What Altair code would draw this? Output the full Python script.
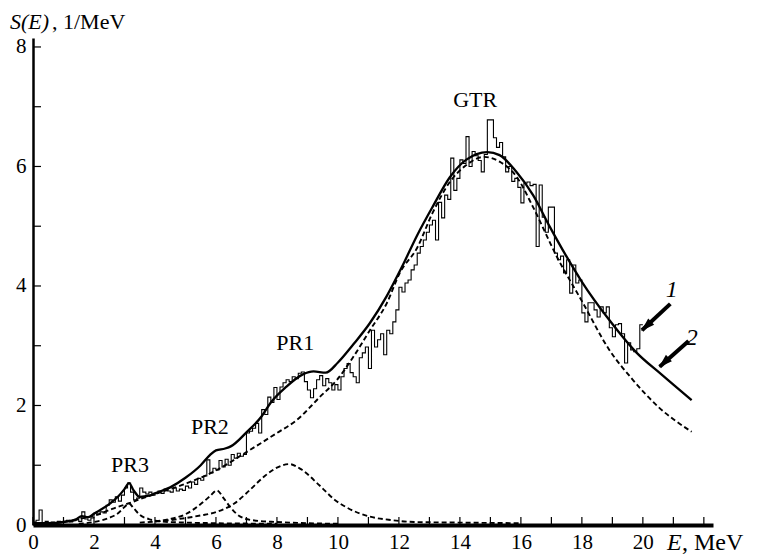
import altair as alt
import pandas as pd

# ---------------- data ----------------
HIST_START = 0.0
HIST_BIN = 0.1
hist_vals = [
    0.05, 0.08, 0.25, 0.04, 0.06, 0.03, 0.05, 0.04, 0.06, 0.05,
    0.06, 0.08, 0.05, 0.07, 0.09, 0.06, 0.22, 0.10, 0.08, 0.12,
    0.20, 0.18, 0.22, 0.20, 0.33, 0.42, 0.38, 0.47, 0.40, 0.50,
    0.62, 0.70, 0.55, 0.42, 0.45, 0.62, 0.55, 0.52, 0.55, 0.50,
    0.53, 0.57, 0.53, 0.60, 0.57, 0.55, 0.62, 0.57, 0.60, 0.58,
    0.65, 0.62, 0.72, 0.68, 0.78, 0.75, 0.82, 1.09, 0.87, 0.95,
    0.92, 1.08, 0.97, 1.10, 1.00, 1.18, 1.12, 1.20, 1.15, 1.18,
    1.54, 1.57, 1.62, 1.70, 1.54, 1.93, 1.85, 2.14, 2.05, 2.30,
    2.10, 2.31, 2.38, 2.43, 2.40, 2.48, 2.45, 2.54, 2.56, 2.40,
    2.26, 2.13, 2.28, 2.43, 2.50, 2.33, 2.45, 2.38, 2.26, 2.35,
    2.26, 2.48, 2.62, 2.70, 2.55, 2.48, 2.38, 2.80, 2.88, 2.98,
    2.62, 3.26, 2.98, 3.10, 3.20, 2.85, 3.26, 3.20, 3.40, 3.60,
    3.98, 3.90, 4.05, 4.10, 4.27, 4.35, 4.55, 4.66, 4.77, 4.90,
    5.02, 5.10, 4.77, 5.40, 5.14, 5.52, 5.45, 6.14, 5.60, 5.80,
    6.11, 6.05, 6.50, 6.00, 6.25, 6.18, 6.10, 5.91, 6.20, 6.78,
    6.78, 6.48, 6.32, 6.40, 6.16, 5.91, 6.00, 5.75, 5.80, 5.65,
    5.39, 5.72, 5.74, 5.68, 5.70, 4.66, 5.69, 5.15, 4.90, 5.32,
    5.32, 4.55, 4.44, 4.50, 4.22, 4.44, 3.88, 4.35, 4.05, 4.10,
    3.55, 3.40, 3.72, 3.72, 3.60, 3.48, 3.65, 3.55, 3.65, 3.30,
    3.15, 3.35, 3.37, 3.20, 2.71, 3.05, 2.93, 2.90, 2.95, 3.35,
]

# curve 1 (total, solid)
solid_x = [0.0, 0.5, 1.0, 1.4, 1.6, 1.8, 2.0, 2.5, 2.8, 3.0, 3.15, 3.3, 3.5, 3.8, 4.0,
           4.5, 5.0, 5.5, 5.8, 6.0, 6.3, 6.5, 7.0, 7.5, 7.8, 8.3, 8.85, 9.2, 9.6, 10.0,
           10.5, 11.05, 11.6, 12.1, 12.6, 13.1, 13.67, 14.2, 14.9, 15.3, 15.85, 16.4,
           16.95, 17.5, 18.0, 18.9, 19.8, 20.56, 21.0, 21.6]
solid_y = [0.03, 0.03, 0.05, 0.09, 0.15, 0.13, 0.19, 0.35, 0.48, 0.60, 0.70, 0.58, 0.47, 0.49, 0.53,
           0.63, 0.79, 1.00, 1.17, 1.25, 1.28, 1.32, 1.55, 1.82, 2.05, 2.31, 2.52, 2.57, 2.55, 2.72,
           3.02, 3.38, 3.83, 4.32, 4.85, 5.32, 5.82, 6.11, 6.24, 6.19, 5.91, 5.52,
           4.99, 4.49, 4.07, 3.43, 2.88, 2.54, 2.35, 2.09]

# curve 2 (GTR, dashed)
gtr_x = [0.0, 0.5, 1.0, 1.5, 2.1, 2.6, 3.18, 3.6, 4.07, 5.05, 6.03, 7.0, 8.0, 8.66, 9.4,
         9.97, 10.5, 11.05, 11.6, 12.03, 12.6, 13.1, 13.67, 14.2, 14.8, 15.3, 15.87, 16.4,
         17.18, 18.03, 18.9, 19.67, 20.5, 21.6]
gtr_y = [0.01, 0.02, 0.05, 0.10, 0.17, 0.27, 0.37, 0.45, 0.53, 0.70, 0.92, 1.22, 1.54, 1.76, 2.14,
         2.43, 2.81, 3.26, 3.71, 4.22, 4.64, 5.22, 5.74, 6.02, 6.16, 6.08, 5.82, 5.32,
         4.49, 3.72, 2.93, 2.43, 1.98, 1.56]

# pygmy resonances (dashed)
pr1_x = [3.5, 4.07, 5.05, 5.5, 6.03, 6.6, 7.1, 7.6, 8.0, 8.4, 8.8, 9.4, 9.9, 10.3, 11.05, 11.8, 12.5, 14.0, 16.0]
pr1_y = [0.04, 0.06, 0.12, 0.16, 0.22, 0.36, 0.58, 0.82, 0.96, 1.02, 0.93, 0.66, 0.42, 0.29, 0.14, 0.08, 0.05, 0.04, 0.03]
pr2_x = [4.0, 4.5, 5.0, 5.5, 5.8, 6.03, 6.25, 6.5, 6.8, 7.2, 8.0, 9.0, 10.0]
pr2_y = [0.06, 0.10, 0.18, 0.35, 0.48, 0.58, 0.45, 0.28, 0.14, 0.08, 0.05, 0.03, 0.02]
pr3_x = [1.5, 2.0, 2.5, 2.8, 3.0, 3.15, 3.3, 3.5, 3.8, 4.2, 5.0, 6.0, 8.0]
pr3_y = [0.02, 0.05, 0.12, 0.20, 0.30, 0.36, 0.28, 0.17, 0.10, 0.06, 0.04, 0.03, 0.02]

peak_names = ["GTR", "PR1", "PR2", "PR3"]
peak_label_x = [14.5, 8.6, 5.8, 3.18]
peak_label_y = [7.11, 3.05, 1.64, 1.00]

arrow_names = ["1", "2"]
arrow_tail_x = [20.9, 21.5]
arrow_tail_y = [3.70, 3.08]
arrow_head_x = [19.97, 20.55]
arrow_head_y = [3.26, 2.65]
arrow_label_x = [20.95, 21.6]
arrow_label_y = [3.93, 3.13]

x_tick_values = list(range(0, 23))
y_tick_values = list(range(0, 9))
x_label_values = list(range(0, 21, 2))
y_label_values = list(range(0, 9, 2))

# ---------------- chart ----------------
FONT = "Liberation Serif"
W, H = 680, 487
xscale = alt.Scale(domain=[0, 22.3], nice=False, zero=False)
yscale = alt.Scale(domain=[0, 8.15], nice=False, zero=False)
xaxis = alt.Axis(values=x_label_values, title=None, grid=False, tickSize=0, domainWidth=4,
                 labelPadding=6, labelFlush=False, labelOverlap=False, format="d")
yaxis = alt.Axis(values=y_label_values, title=None, grid=False, tickSize=0, domainWidth=2.5,
                 labelPadding=7, labelFlush=False, labelOverlap=False, format="d")
X = alt.X("x:Q", scale=xscale, axis=xaxis)
Y = alt.Y("y:Q", scale=yscale, axis=yaxis)

edges = [round(HIST_START + i * HIST_BIN, 2) for i in range(len(hist_vals) + 1)]
hist_df = pd.DataFrame({"x": edges, "y": hist_vals + [hist_vals[-1]]})

hist = alt.Chart(hist_df).mark_line(interpolate="step-after", color="black",
                                    strokeWidth=1.1, clip=True).encode(x=X, y=Y)

def curve(xs, ys, dashed, width):
    df = pd.DataFrame({"x": xs, "y": ys})
    kw = dict(interpolate="monotone", color="black", strokeWidth=width, clip=True)
    if dashed:
        kw["strokeDash"] = [5, 3]
    return alt.Chart(df).mark_line(**kw).encode(x=X, y=Y)

solid = curve(solid_x, solid_y, False, 2.3)
gtr = curve(gtr_x, gtr_y, True, 1.9)
pr1 = curve(pr1_x, pr1_y, True, 1.9)
pr2 = curve(pr2_x, pr2_y, True, 1.9)
pr3 = curve(pr3_x, pr3_y, True, 1.9)

# inside ticks
xt = alt.Chart(pd.DataFrame({"x": x_tick_values})).mark_rule(color="black", strokeWidth=1.2).encode(
    x=X, y=alt.value(H), y2=alt.value(H - 8))
yt = alt.Chart(pd.DataFrame({"y": y_tick_values})).mark_rule(color="black", strokeWidth=1.2).encode(
    y=Y, x=alt.value(0), x2=alt.value(8))

peaks_df = pd.DataFrame({"x": peak_label_x, "y": peak_label_y, "t": peak_names})
peaks = alt.Chart(peaks_df).mark_text(font=FONT, fontSize=22, color="black",
                                      align="center", baseline="middle").encode(x=X, y=Y, text="t:N")

arr_df = pd.DataFrame({"x": arrow_tail_x, "y": arrow_tail_y,
                       "x2": arrow_head_x, "y2": arrow_head_y, "t": arrow_names})
arr_lines = alt.Chart(arr_df).mark_rule(color="black", strokeWidth=4).encode(
    x=X, y=Y, x2="x2:Q", y2="y2:Q")
head_df = pd.DataFrame({"x": arrow_head_x, "y": arrow_head_y})
arr_heads = alt.Chart(head_df).mark_point(
    shape="M0,-0.15 L0.55,1.6 L-0.55,1.6 Z", filled=True, color="black", opacity=1,
    size=250, angle=227, strokeWidth=0).encode(x=X, y=Y)
lab_df = pd.DataFrame({"x": arrow_label_x, "y": arrow_label_y, "t": arrow_names})
arr_labels = alt.Chart(lab_df).mark_text(font=FONT, fontSize=24, fontStyle="italic", color="black",
                                         align="center", baseline="middle").encode(x=X, y=Y, text="t:N")

# axis titles as text pieces
one = pd.DataFrame({"a": [0]})
ytitle1 = alt.Chart(one).mark_text(text="S(E)", font=FONT, fontSize=22, fontStyle="italic",
                                   align="left", baseline="alphabetic", color="black").encode(
    x=alt.value(-23), y=alt.value(-9))
ytitle2 = alt.Chart(one).mark_text(text=", 1/MeV", font=FONT, fontSize=22,
                                   align="left", baseline="alphabetic", color="black").encode(
    x=alt.value(19), y=alt.value(-9))
xtitle1 = alt.Chart(one).mark_text(text="E", font=FONT, fontSize=24, fontStyle="italic",
                                   align="left", baseline="alphabetic", color="black").encode(
    x=alt.value(634), y=alt.value(H + 25))
xtitle2 = alt.Chart(one).mark_text(text=", MeV", font=FONT, fontSize=24,
                                   align="left", baseline="alphabetic", color="black").encode(
    x=alt.value(649), y=alt.value(H + 25))

chart = alt.layer(
    hist, pr3, pr2, pr1, gtr, solid, xt, yt, peaks, arr_lines, arr_heads, arr_labels,
    ytitle1, ytitle2, xtitle1, xtitle2
).properties(
    width=W, height=H,
    autosize=alt.AutoSizeParams(type="none"),
    padding={"left": 25, "top": 30, "right": 36, "bottom": 33},
    background="white",
).configure_axis(
    labelFont=FONT, labelFontSize=21, labelColor="black", domainColor="black"
).configure_view(stroke=None)

chart.save("out.html", embed_options={"renderer": "svg", "actions": False})
